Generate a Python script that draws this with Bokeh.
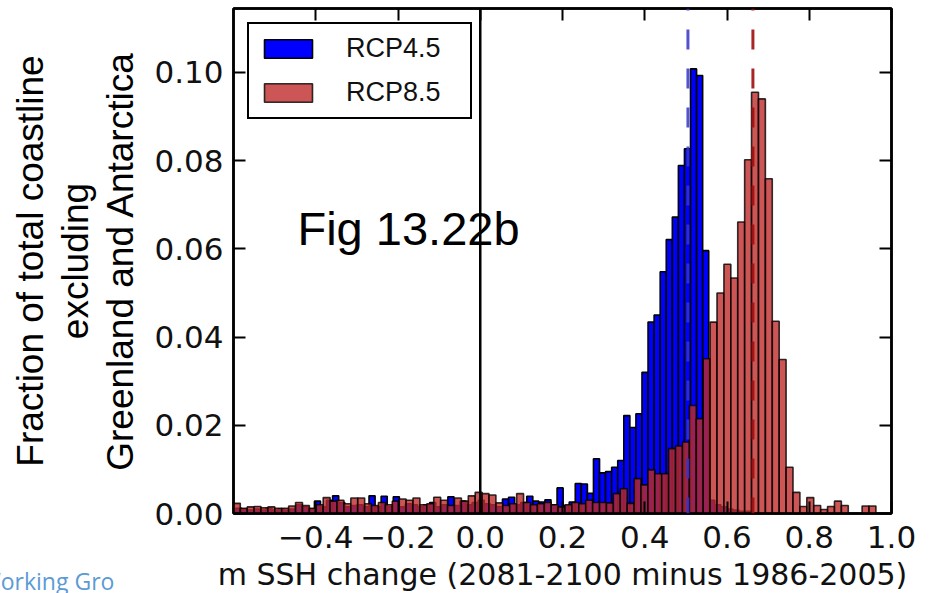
import math
from bokeh.plotting import figure
from bokeh.models import (Range1d, LinearAxis, FixedTicker, Span, Label, Legend, Title,
                          LegendItem, ColumnDataSource, CustomJSTickFormatter)
from bokeh.embed import file_html
from bokeh.resources import INLINE

# ---------------- data ----------------
# RCP4.5 histogram: first bin left edge, bin width, fraction per bin
rcp45_start = -0.6097
rcp45_width = 0.01475
rcp45_frac = [
    0.0010, 0.0012, 0.0010, 0.0008, 0.0010, 0.0008, 0.0012, 0.0008, 0.0010, 0.0008,
    0.0010, 0.0020, 0.0015, 0.0010, 0.0028, 0.0015, 0.0030, 0.0040, 0.0025, 0.0015,
    0.0018, 0.0020, 0.0015, 0.0040, 0.0015, 0.0039, 0.0015, 0.0038, 0.0015, 0.0022,
    0.0020, 0.0015, 0.0020, 0.0025, 0.0015, 0.0020, 0.0038, 0.0018, 0.0028, 0.0020,
    0.0025, 0.0030, 0.0022, 0.0020, 0.0015, 0.0033, 0.0037, 0.0020, 0.0025, 0.0039,
    0.0028, 0.0026, 0.0031, 0.0020, 0.0058, 0.0018, 0.0026, 0.0068, 0.0067, 0.0046,
    0.0124, 0.0092, 0.0095, 0.0105, 0.0120, 0.0222, 0.0195, 0.0226, 0.0320, 0.0434,
    0.0450, 0.0548, 0.0621, 0.0672, 0.0789, 0.0827, 0.1008, 0.0993, 0.0596, 0.0030,
    0.0020, 0.0015, 0.0010, 0.0008, 0.0005, 0.0005,
]

# RCP8.5 histogram
rcp85_start = -0.6003
rcp85_width = 0.0168
rcp85_frac = [
    0.0023, 0.0012, 0.0015, 0.0016, 0.0013, 0.0015, 0.0012, 0.0012, 0.0017, 0.0025,
    0.0018, 0.0012, 0.0020, 0.0036, 0.0028, 0.0030, 0.0022, 0.0035, 0.0035, 0.0022,
    0.0018, 0.0025, 0.0020, 0.0028, 0.0033, 0.0030, 0.0035, 0.0020, 0.0022, 0.0037,
    0.0030, 0.0018, 0.0035, 0.0028, 0.0040, 0.0048, 0.0045, 0.0042, 0.0024, 0.0018,
    0.0022, 0.0045, 0.0025, 0.0020, 0.0022, 0.0025, 0.0020, 0.0015, 0.0020, 0.0025,
    0.0022, 0.0030, 0.0025, 0.0025, 0.0024, 0.0045, 0.0056, 0.0023, 0.0079, 0.0065,
    0.0099, 0.0090, 0.0090, 0.0147, 0.0153, 0.0162, 0.0245, 0.0215, 0.0351, 0.0434,
    0.0500, 0.0565, 0.0534, 0.0661, 0.0802, 0.0955, 0.0940, 0.0759, 0.0436, 0.0349,
    0.0105, 0.0048, 0.0016, 0.0036, 0.0018, 0.0009, 0.0016, 0.0028, 0.0018, 0.0000,
    0.0000, 0.0017, 0.0017, 0.0000, 0.0000,
]

rcp45_mean = 0.505
rcp85_mean = 0.663
zero_line = 0.0

x_ticks = [-0.4, -0.2, 0.0, 0.2, 0.4, 0.6, 0.8, 1.0]
y_ticks = [0.00, 0.02, 0.04, 0.06, 0.08, 0.10]
x_label = "m SSH change (2081-2100 minus 1986-2005)"
y_label_lines = ["Fraction of total coastline", "excluding", "Greenland and Antarctica"]
series_names = ["RCP4.5", "RCP8.5"]
fig_tag = "Fig 13.22b"
footer_text = "Working Gro"

# ---------------- build ----------------
def bins(start, width, vals):
    left = [start + i * width for i in range(len(vals))]
    right = [l + width for l in left]
    return ColumnDataSource(dict(left=left, right=right, top=vals, bottom=[0.0] * len(vals)))

src45 = bins(rcp45_start, rcp45_width, rcp45_frac)
src85 = bins(rcp85_start, rcp85_width, rcp85_frac)

p = figure(width=933, height=593, x_range=Range1d(-0.6, 1.0), y_range=Range1d(0, 0.1145),
           output_backend="svg", toolbar_location=None,
           min_border_left=233, min_border_right=42, min_border_top=8, min_border_bottom=80)
p.background_fill_color = "white"
p.border_fill_color = "white"
p.xgrid.visible = False
p.ygrid.visible = False
p.outline_line_color = "black"
p.outline_line_width = 2.5

tick_font = "DejaVu Sans"
xfmt = CustomJSTickFormatter(code='return (tick < -1e-9 ? "\\u2212" : "") + Math.abs(tick).toFixed(1);')
yfmt = CustomJSTickFormatter(code='return Math.abs(tick).toFixed(2);')
blankfmt = CustomJSTickFormatter(code='return "";')

for ax in p.xaxis:
    ax.ticker = FixedTicker(ticks=x_ticks)
    ax.formatter = xfmt
for ax in p.yaxis:
    ax.ticker = FixedTicker(ticks=y_ticks)
    ax.formatter = yfmt

def style_axis(ax, labels=True):
    ax.axis_line_width = 2.5
    ax.axis_line_color = "black"
    ax.major_tick_in = 12
    ax.major_tick_out = 0
    ax.major_tick_line_width = 2
    ax.major_tick_line_color = "black"
    ax.minor_tick_line_color = None
    ax.major_label_text_font = tick_font
    ax.major_label_text_color = "#111111"
    ax.major_label_text_font_size = "31px"
    if not labels:
        ax.major_label_standoff = 0

style_axis(p.xaxis[0])
style_axis(p.yaxis[0])
p.xaxis[0].major_label_standoff = 12
p.yaxis[0].major_label_standoff = 10
# tiny blank axis label used only as vertical spacing below the tick labels
p.xaxis[0].axis_label = " "
p.xaxis[0].axis_label_text_font_size = "10px"
p.xaxis[0].axis_label_standoff = 5

p.yaxis[0].axis_label = "\n".join(y_label_lines)
p.yaxis[0].axis_label_text_font = "Liberation Sans"
p.yaxis[0].axis_label_text_font_size = "37px"
p.yaxis[0].axis_label_text_font_style = "normal"
p.yaxis[0].axis_label_text_color = "black"
p.yaxis[0].axis_label_text_line_height = 1.1
p.yaxis[0].axis_label_standoff = 10

top_ax = LinearAxis(ticker=FixedTicker(ticks=x_ticks), formatter=blankfmt)
right_ax = LinearAxis(ticker=FixedTicker(ticks=y_ticks), formatter=blankfmt)
style_axis(top_ax, labels=False)
style_axis(right_ax, labels=False)
p.add_layout(top_ax, "above")
p.add_layout(right_ax, "right")

r45 = p.quad(left="left", right="right", top="top", bottom="bottom", source=src45,
             fill_color="#0000ff", fill_alpha=1.0, line_color="black", line_width=1.6)
r85 = p.quad(left="left", right="right", top="top", bottom="bottom", source=src85,
             fill_color="#bf2a2a", fill_alpha=0.8, line_color="black", line_alpha=0.8,
             line_width=1.6)

p.add_layout(Span(location=zero_line, dimension="height", line_color="black", line_width=2.5))
p.add_layout(Span(location=rcp45_mean, dimension="height", line_color="#3535c8",
                  line_width=3, line_dash="20 19", line_dash_offset=18, line_alpha=0.85))
p.add_layout(Span(location=rcp85_mean, dimension="height", line_color="#9e0d0d",
                  line_width=3, line_dash="20 19", line_dash_offset=18, line_alpha=0.9))

legend = Legend(items=[LegendItem(label=series_names[0], renderers=[r45]),
                       LegendItem(label=series_names[1], renderers=[r85])],
                location="top_left")
legend.margin = 14
legend.padding = 9
legend.spacing = 13
legend.glyph_width = 60
legend.glyph_height = 23
legend.label_height = 23
legend.label_width = 115
legend.label_standoff = 28
legend.label_text_font = "Liberation Sans"
legend.label_text_font_size = "27px"
legend.label_text_color = "#111111"
legend.border_line_color = "black"
legend.border_line_width = 2
legend.border_line_alpha = 1.0
legend.background_fill_alpha = 1.0
p.add_layout(legend)

# pixel -> data helpers for text placement inside the frame
X0_PX, X_SCALE = 233.0, (891.5 - 233.0) / 1.6
Y0_PX, Y_SCALE = 513.0, (513.0 - 8.0) / 0.1145
def dx(px):
    return -0.6 + (px - X0_PX) / X_SCALE
def dy(py):
    return (Y0_PX - py) / Y_SCALE

p.add_layout(Label(x=dx(297), y=dy(228), text=fig_tag, text_font="Liberation Sans",
                   text_font_size="47px", text_color="black", text_baseline="alphabetic"))

# x-axis title (small-height panel so that the footer can share its row)
xtitle = Title(text=x_label, align="center", vertical_align="top", standoff=-26,
               text_font=tick_font, text_font_size="30px", text_font_style="normal",
               text_color="#111111")
p.add_layout(xtitle, "below")

# footer at the bottom-left corner of the page
footer = Title(text=footer_text, align="left", vertical_align="top", offset=-254,
               standoff=-31, text_font="Open Sans", text_font_size="23px",
               text_font_style="normal", text_color="#5b9bd5")
p.add_layout(footer, "below")

open("out.html", "w").write(file_html(p, INLINE))
